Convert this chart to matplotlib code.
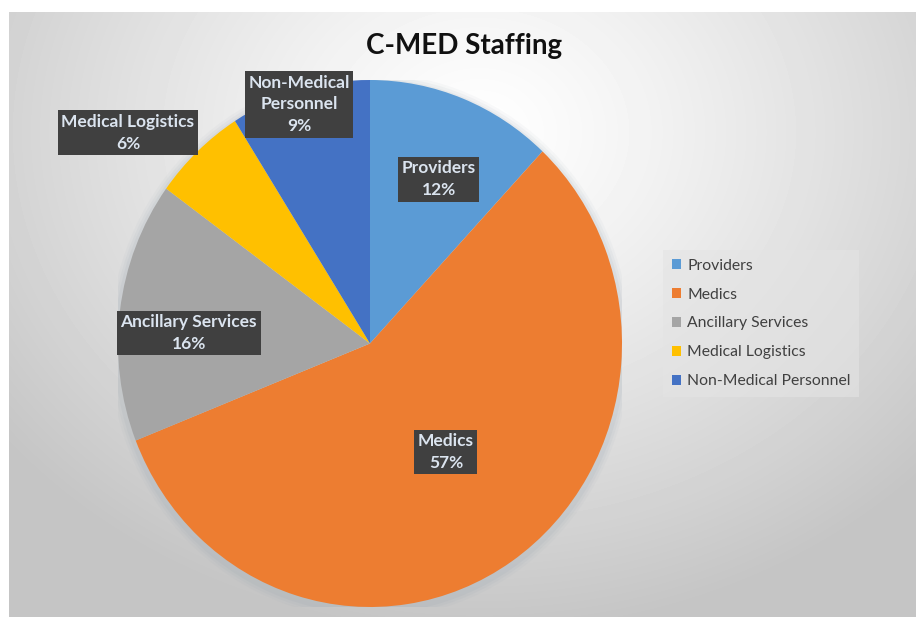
import matplotlib.pyplot as plt
import numpy as np
from matplotlib.patches import Ellipse, Patch

categories = [
    "Providers",
    "Medics",
    "Ancillary Services",
    "Medical Logistics",
    "Non-Medical Personnel",
]
shares = [12, 57, 16, 6, 9]
box_labels = [
    "Providers\n12%",
    "Medics\n57%",
    "Ancillary Services\n16%",
    "Medical Logistics\n6%",
    "Non-Medical\nPersonnel\n9%",
]

colors = ["#5B9BD5", "#ED7D31", "#A5A5A5", "#FFC000", "#4472C4"]
# label placement: radius (pie units) and angle tweak (deg) per slice
label_r = [0.68, 0.51, 0.72, 1.25, 0.95]
label_dang = [-2, 2, 4, 7, 1]

plt.rcParams["font.family"] = ["Lato", "DejaVu Sans"]

W, H = 916, 617
fig = plt.figure(figsize=(W / 100, H / 100), dpi=100)
fig.patch.set_facecolor("white")

# chart area background: radial gradient, white at top centre, grey at edges
bg = fig.add_axes([9 / W, 0, 1 - 9 / W, 1 - 12 / H])
yy, xx = np.mgrid[0:605, 0:907]
d = np.sqrt(((xx - 470) / 650.0) ** 2 + ((yy - 120) / 540.0) ** 2)
g = np.clip(1.0 - 0.25 * d ** 1.2, 0.77, 1.0)
bg.imshow(g, cmap="gray", vmin=0, vmax=1, aspect="auto",
          interpolation="bilinear", extent=(0, 1, 0, 1))
bg.set_xlim(0, 1)
bg.set_ylim(0, 1)
bg.axis("off")

# pie axes, box = pie bounding box (slightly elliptical like the original)
left, right, top, bottom = 118, 622, 80, 607
ax = fig.add_axes([left / W, (H - bottom) / H, (right - left) / W, (bottom - top) / H])
ax.patch.set_alpha(0)

# soft shadow
for k, a in zip([1.035, 1.025, 1.015], [0.05, 0.07, 0.09]):
    ax.add_patch(Ellipse((0.0, -0.01), 2 * k, 2 * k, color="#8a9aa8", alpha=a, lw=0))

wedges, _ = ax.pie(
    shares,
    colors=colors,
    startangle=90,
    counterclock=False,
    wedgeprops=dict(linewidth=0),
)
ax.set_aspect("auto")
ax.set_xlim(-1, 1)
ax.set_ylim(-1, 1)
ax.axis("off")

for w, txt, r, da in zip(wedges, box_labels, label_r, label_dang):
    ang = np.deg2rad((w.theta1 + w.theta2) / 2 + da)
    ax.text(
        r * np.cos(ang),
        r * np.sin(ang),
        txt,
        ha="center",
        va="center",
        color="#dbe4ef",
        fontsize=12.5,
        fontweight="bold",
        linespacing=1.45,
        zorder=5,
        bbox=dict(boxstyle="square,pad=0.2", fc="#404040", ec="none"),
    )

fig.text(0.507, 0.925, "C-MED Staffing", ha="center", va="center",
         fontsize=20, fontweight="bold", color="#111111")

handles = [Patch(facecolor=c, edgecolor="none") for c in colors]
leg = fig.legend(
    handles,
    categories,
    loc="upper left",
    bbox_to_anchor=(663 / W, 1 - 250 / H),
    fontsize=11.3,
    handlelength=0.6,
    handleheight=0.6,
    handletextpad=0.4,
    labelspacing=0.95,
    borderpad=0.55,
    borderaxespad=0,
    frameon=True,
    fancybox=False,
)
leg.get_frame().set_facecolor("#e4e4e4")
leg.get_frame().set_alpha(0.6)
leg.get_frame().set_edgecolor("none")
for t in leg.get_texts():
    t.set_color("#404040")

fig.savefig("out.png", dpi=100)
